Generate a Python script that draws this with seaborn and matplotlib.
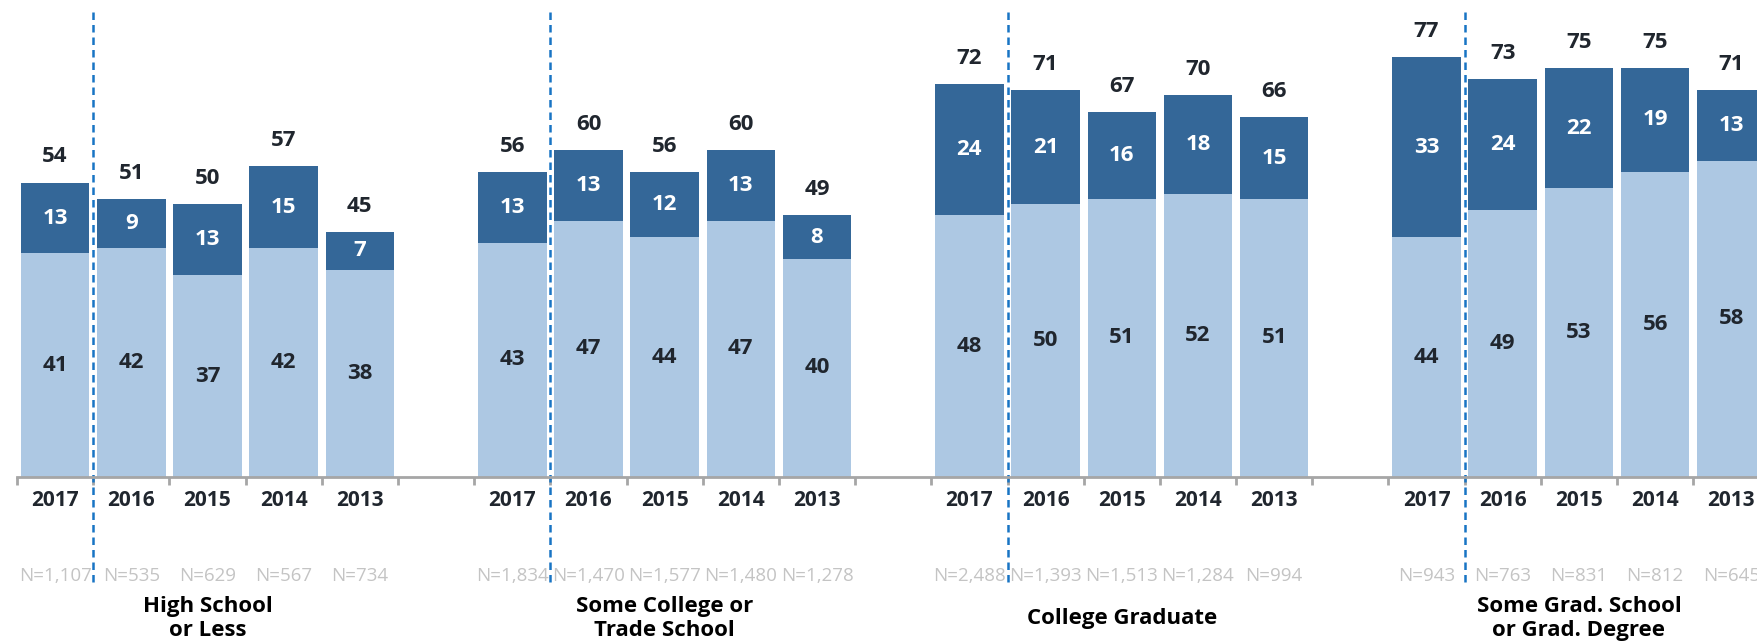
import numpy as np
import pandas as pd
import matplotlib
matplotlib.use("Agg")
import matplotlib.pyplot as plt
import seaborn as sns

# Survey results by education level and year
groups = ["High School\nor Less", "Some College or\nTrade School",
          "College Graduate", "Some Grad. School\nor Grad. Degree"]
years = ["2017", "2016", "2015", "2014", "2013"]

lower = [[41, 42, 37, 42, 38],
         [43, 47, 44, 47, 40],
         [48, 50, 51, 52, 51],
         [44, 49, 53, 56, 58]]
upper = [[13, 9, 13, 15, 7],
         [13, 13, 12, 13, 8],
         [24, 21, 16, 18, 15],
         [33, 24, 22, 19, 13]]
totals = [[54, 51, 50, 57, 45],
          [56, 60, 56, 60, 49],
          [72, 71, 67, 70, 66],
          [77, 73, 75, 75, 71]]
sample_sizes = [["N=1,107", "N=535", "N=629", "N=567", "N=734"],
                ["N=1,834", "N=1,470", "N=1,577", "N=1,480", "N=1,278"],
                ["N=2,488", "N=1,393", "N=1,513", "N=1,284", "N=994"],
                ["N=943", "N=763", "N=831", "N=812", "N=645"]]

DARK = "#346798"
LIGHT = "#adc8e3"
TEXT = "#20262e"
NGRAY = "#c4c4c4"
DASH = "#1874c4"

sns.set_theme(style="white")
plt.rcParams["font.family"] = ["Open Sans", "DejaVu Sans"]

rows = []
for g in range(len(groups)):
    for k in range(len(years)):
        pos = g * 6 + k
        rows.append(dict(pos=pos, group=g, year=years[k],
                         lower=lower[g][k], upper=upper[g][k],
                         stack=lower[g][k] + upper[g][k],
                         total=totals[g][k], n=sample_sizes[g][k]))
df = pd.DataFrame(rows)

W, H = 1758, 643
fig = plt.figure(figsize=(W / 100, H / 100), dpi=100)
ax_left = 17 / W
ax_bottom = 1 - 477 / H
ax = fig.add_axes([ax_left, ax_bottom, 1 - ax_left, 477 / H])

sns.barplot(data=df, x="pos", y="stack", native_scale=True, color=DARK,
            saturation=1, width=0.9, linewidth=0, ax=ax, errorbar=None)
sns.barplot(data=df, x="pos", y="lower", native_scale=True, color=LIGHT,
            saturation=1, width=0.9, linewidth=0, ax=ax, errorbar=None)

ax.set_xlabel("")
ax.set_ylabel("")
ax.set_yticks([])

for side in ["top", "right", "left"]:
    ax.spines[side].set_visible(False)
ax.spines["bottom"].set_color("#a6a6a6")
ax.spines["bottom"].set_linewidth(2)

# year labels under each bar, small tick marks between slots
ax.set_xticks(df["pos"].to_numpy())
ax.set_xticklabels(df["year"], fontsize=15, fontweight="bold", color=TEXT)
ax.set_xticks(np.arange(-0.5, 22.0, 1.0), minor=True)
ax.tick_params(axis="x", which="major", length=0, pad=9)
ax.tick_params(axis="x", which="minor", length=6, width=2, color="#a6a6a6",
               direction="out", bottom=True)

# limits set after the ticks so they are not widened
ax.set_xlim(-0.5, 22.35)
ax.set_ylim(0, 87.5)

xt = ax.get_xaxis_transform()
for _, r in df.iterrows():
    x = r["pos"]
    ax.text(x, r["lower"] / 2, str(r["lower"]), ha="center", va="center",
            fontsize=16, fontweight="bold", color=TEXT)
    ax.text(x, r["lower"] + r["upper"] / 2, str(r["upper"]), ha="center",
            va="center", fontsize=16, fontweight="bold", color="white")
    ax.text(x, r["stack"] + 3.7, str(r["total"]), ha="center",
            va="baseline", fontsize=16, fontweight="bold", color=TEXT)
    ax.text(x, -0.2075, r["n"], transform=xt, ha="center", va="center",
            fontsize=13.5, color=NGRAY, clip_on=False)

for g, name in enumerate(groups):
    cx = g * 6 + 2
    ax.text(cx, -0.297, name, transform=xt, ha="center", va="center",
            fontsize=16, fontweight="bold", color="black", linespacing=1.2,
            clip_on=False)
    ax.plot([g * 6 + 0.5, g * 6 + 0.5], [0.975, -0.222], transform=xt,
            color=DASH, lw=1.8, ls=(0, (3, 2)), clip_on=False)

fig.savefig("out.png", dpi=100)
